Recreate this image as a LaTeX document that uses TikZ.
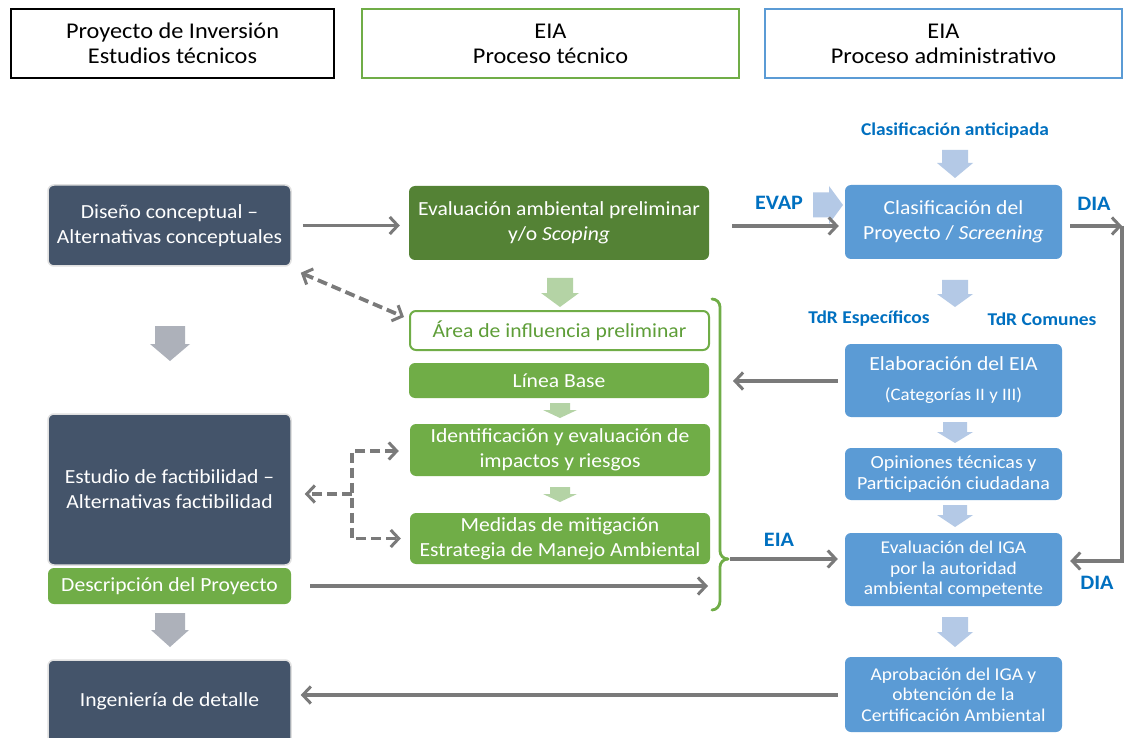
\documentclass[tikz,border=0pt]{standalone}
\usepackage{fontspec}
\setmainfont{Carlito}[FakeStretch=1.08]
\usetikzlibrary{arrows.meta,calc}
\definecolor{navy}{HTML}{44546A}
\definecolor{dkgreen}{HTML}{548235}
\definecolor{mygreen}{HTML}{70AD47}
\definecolor{txtgreen}{HTML}{5E9E38}
\definecolor{myblue}{HTML}{5B9BD5}
\definecolor{txtblue}{HTML}{0070C0}
\definecolor{argrey}{HTML}{7A7A7A}
\definecolor{ltgreen}{HTML}{B4D3A5}
\definecolor{ltblue}{HTML}{B4C9E6}
\definecolor{blkgrey}{HTML}{ADB1BA}
\newcommand{\fs}[2]{\fontsize{#1}{#2}\selectfont}
% block arrow pointing down: cx, top, tip, shaft width, head width, head length, colour
\newcommand{\blockdown}[7]{\fill[#7] ({#1-#4/2},#2) -- ({#1+#4/2},#2) -- ({#1+#4/2},{#3-#6}) -- ({#1+#5/2},{#3-#6}) -- (#1,#3) -- ({#1-#5/2},{#3-#6}) -- ({#1-#4/2},{#3-#6}) -- cycle;}
% block arrow pointing right: left, tip, cy, shaft width, head width, head length, colour
\newcommand{\blockright}[7]{\fill[#7] (#1,{#3-#4/2}) -- (#1,{#3+#4/2}) -- ({#2-#6},{#3+#4/2}) -- ({#2-#6},{#3+#5/2}) -- (#2,#3) -- ({#2-#6},{#3-#5/2}) -- ({#2-#6},{#3-#4/2}) -- cycle;}
\tikzset{
  barbtip/.tip={Straight Barb[length=8pt,width=17pt,line width=3pt]},
  hdr/.style={draw, fill=white, align=center, inner sep=0pt, font=\fs{22.5}{25}},
  box/.style={rounded corners=6pt, align=center, inner sep=0pt, text=white, font=\fs{20}{25}},
  navybox/.style={box, fill=navy, draw=black!12, line width=1.5pt},
  dgbox/.style={box, fill=dkgreen},
  gbox/.style={box, fill=mygreen},
  bbox/.style={box, fill=myblue},
  lbl/.style={text=txtblue, font=\fs{20.5}{22}\bfseries, inner sep=0pt},
  slbl/.style={text=txtblue, font=\fs{18}{20}\bfseries, inner sep=0pt},
  garrow/.style={draw=argrey, line width=3.3pt, -{barbtip}},
  darrow/.style={draw=argrey, line width=3.8pt, dash pattern=on 10pt off 5pt, -{barbtip}},
}
\begin{document}
\begin{tikzpicture}[x=1pt,y=-1pt]
\useasboundingbox (0,0) rectangle (1133,738);
\fill[white] (0,0) rectangle (1133,738);

% headers
\node[hdr, draw=black, line width=2.8pt, minimum width=323pt, minimum height=69pt] (h1) at (172.5,43.5) {Proyecto de Inversión\\Estudios técnicos};
\node[hdr, draw=mygreen, line width=2.5pt, minimum width=377pt, minimum height=69pt] (h2) at (550.5,43.5) {EIA\\Proceso técnico};
\node[hdr, draw=myblue, line width=2.5pt, minimum width=357pt, minimum height=69pt] (h3) at (943.5,43.5) {EIA\\Proceso administrativo};

% left column
\node[navybox, minimum width=243pt, minimum height=81pt] (diseno) at (169.5,225.5) {Diseño conceptual –\\Alternativas conceptuales};
\node[navybox, minimum width=243pt, minimum height=151pt] (estudio) at (169.5,489.5) {Estudio de factibilidad –\\Alternativas factibilidad};
\node[gbox, minimum width=243pt, minimum height=36pt] (desc) at (169.5,586) {Descripción del Proyecto};
\node[navybox, minimum width=243pt, minimum height=86pt] (ing) at (169.5,703) {\raisebox{7pt}{Ingeniería de detalle}};
\blockdown{170}{326}{361}{30}{40}{17}{blkgrey}
\blockdown{170}{613}{647}{30}{38}{17}{blkgrey}

% middle column
\node[dgbox, minimum width=300pt, minimum height=74pt] (eap) at (559,223) {Evaluación ambiental preliminar\\y/o \textit{Scoping}};
\node[box, fill=white, draw=mygreen, line width=2pt, text=txtgreen, minimum width=299pt, minimum height=39pt] (area) at (559.5,330.5) {Área de influencia preliminar};
\node[gbox, minimum width=300pt, minimum height=35pt] (linea) at (559,380.5) {Línea Base};
\node[gbox, minimum width=300pt, minimum height=52pt] (ident) at (560,450) {Identificación y evaluación de\\impactos y riesgos};
\node[gbox, minimum width=300pt, minimum height=51pt] (medidas) at (560,538.5) {Medidas de mitigación\\Estrategia de Manejo Ambiental};
\blockdown{560}{278}{307}{26}{38}{14}{ltgreen}
\blockdown{560}{403}{418}{20}{34}{8}{ltgreen}
\blockdown{560}{487}{502}{20}{34}{8}{ltgreen}

% bracket
\draw[mygreen, line width=2.8pt, line cap=round] (712,299) to[out=0,in=90] (720,307) -- (720,551) to[out=-90,in=180] (728,559);
\draw[mygreen, line width=2.8pt, line cap=round] (728,559) to[out=180,in=90] (720,567) -- (720,601) to[out=-90,in=0] (712,610);
\coordinate (btip) at (730,559);
\coordinate (bin1) at (733,381);
\coordinate (bin2) at (708,586);

% right column
\node[slbl] (canti) at (955,131) {Clasificación anticipada};
\node[bbox, minimum width=217pt, minimum height=74pt] (clasif) at (953.5,222) {Clasificación del\\Proyecto / \textit{Screening}};
\node[slbl] (tdre) at (869,319) {TdR Específicos};
\node[slbl] (tdrc) at (1042,319) {TdR Comunes};
\node[bbox, minimum width=217pt, minimum height=73pt] (elab) at (953.5,380.5) {Elaboración del EIA\\[5pt]{\fs{17.5}{20}(Categorías II y III)}};
\node[bbox, minimum width=217pt, minimum height=52pt, font=\fs{18.5}{21}] (opin) at (953.5,474) {Opiniones técnicas y\\Participación ciudadana};
\node[bbox, minimum width=217pt, minimum height=73pt, font=\fs{18}{20.5}] (evaliga) at (953.5,569.5) {Evaluación del IGA\\por la autoridad\\ambiental competente};
\node[bbox, minimum width=217pt, minimum height=75pt, font=\fs{18}{20.5}] (aprob) at (953.5,694.5) {Aprobación del IGA y\\obtención de la\\Certificación Ambiental};
\blockdown{955}{150}{178}{26}{36}{15}{ltblue}
\blockdown{955}{280}{307}{26}{36}{13}{ltblue}
\blockdown{955}{422}{443}{24}{36}{11}{ltblue}
\blockdown{955}{505}{527}{24}{36}{12}{ltblue}
\blockdown{955}{617}{647}{26}{36}{15}{ltblue}
\blockright{813}{843}{205}{25}{38}{14}{ltblue}

% labels
\node[lbl] (evap) at (779,203) {EVAP};
\node[lbl] (dia1) at (1094,204) {DIA};
\node[lbl] (eia) at (779,540) {EIA};
\node[lbl] (dia2) at (1097,583) {DIA};

% connectors
\draw[garrow] ($(diseno.east)+(11,0)$) -- ($(eap.west)+(-9,2.5)$);
\draw[garrow] ($(eap.east)+(23,3)$) -- ($(clasif.west)+(-6,4)$);
\coordinate (diac) at (1122,226);
\draw[garrow] ($(clasif.east)+(8,4)$) -- (diac);
\draw[garrow] (diac) |- ($(evaliga.east)+(8,-8.5)$);
\draw[garrow] ($(elab.west)+(-7,0.5)$) -- (bin1);
\draw[garrow] (btip) -- ($(evaliga.west)+(-7,-10.5)$);
\draw[garrow] ($(desc.east)+(19,0)$) -- (bin2);
\draw[garrow] ($(aprob.west)+(-7,0.5)$) -- ($(ing.east)+(9,-8)$);

\draw[darrow, {barbtip}-{barbtip}] ($(diseno.south east)+(9,6)$) -- ($(area.north west)+(-5,7)$);
\coordinate (j) at (352,494);
\draw[darrow, {barbtip}-{barbtip}] ($(ident.west)+(-11,1)$) -| (j) |- ($(medidas.west)+(-9,0)$);
\draw[darrow] (j) -- ($(estudio.east)+(13,4.5)$);
\end{tikzpicture}
\end{document}
